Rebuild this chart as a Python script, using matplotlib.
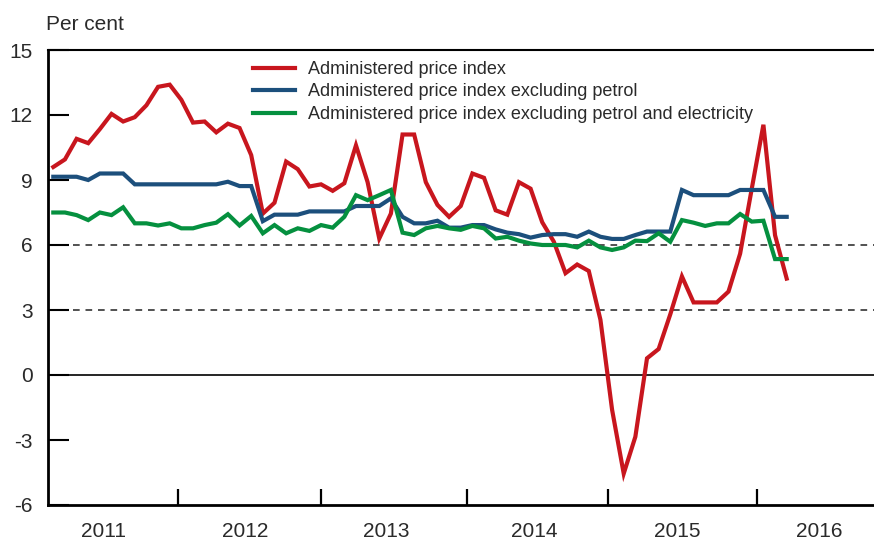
import matplotlib
matplotlib.use("Agg")
import matplotlib.pyplot as plt
import numpy as np

plt.rcParams['font.family'] = ['Liberation Sans', 'DejaVu Sans']

# Monthly observations (index 0 = first month shown)
admin_total = [9.6, 9.95, 10.9, 10.7, 11.35, 12.05, 11.7, 11.9, 12.45, 13.3, 13.4, 12.7,
               11.65, 11.7, 11.2, 11.6, 11.4, 10.15, 7.45, 7.95, 9.85, 9.5, 8.7, 8.8,
               8.5, 8.85, 10.6, 8.9, 6.3, 7.45, 11.1, 11.1, 8.9, 7.85, 7.3, 7.8,
               9.3, 9.1, 7.6, 7.4, 8.9, 8.6, 7.05, 6.15, 4.7, 5.1, 4.8, 2.55,
               -1.6, -4.55, -2.85, 0.77, 1.2, 2.8, 4.55, 3.35, 3.35, 3.35, 3.85, 5.6,
               8.6, 11.55, 6.45, 4.45]
admin_ex_petrol = [9.15, 9.15, 9.15, 9.0, 9.3, 9.3, 9.3, 8.8, 8.8, 8.8, 8.8, 8.8,
                   8.8, 8.8, 8.8, 8.92, 8.72, 8.72, 7.1, 7.4, 7.4, 7.4, 7.55, 7.55,
                   7.55, 7.55, 7.8, 7.8, 7.8, 8.15, 7.3, 7.0, 7.0, 7.12, 6.8, 6.8,
                   6.92, 6.92, 6.72, 6.57, 6.5, 6.34, 6.46, 6.5, 6.5, 6.38, 6.62, 6.38,
                   6.28, 6.28, 6.46, 6.62, 6.62, 6.62, 8.54, 8.3, 8.3, 8.3, 8.3, 8.54,
                   8.54, 8.54, 7.3, 7.3]
admin_ex_petrol_elec = [7.5, 7.5, 7.38, 7.15, 7.5, 7.38, 7.74, 7.0, 7.0, 6.9, 7.0, 6.77,
                        6.77, 6.92, 7.03, 7.42, 6.9, 7.34, 6.54, 6.92, 6.54, 6.77, 6.65, 6.92,
                        6.8, 7.3, 8.3, 8.07, 8.3, 8.54, 6.57, 6.46, 6.77, 6.88, 6.77, 6.7,
                        6.88, 6.77, 6.3, 6.38, 6.2, 6.07, 6.0, 6.0, 6.0, 5.89, 6.2, 5.89,
                        5.77, 5.89, 6.2, 6.18, 6.54, 6.15, 7.15, 7.03, 6.88, 7.0, 7.0, 7.43,
                        7.08, 7.12, 5.35, 5.35]
series_names = ["Administered price index",
                "Administered price index excluding petrol",
                "Administered price index excluding petrol and electricity"]
year_labels = ["2011", "2012", "2013", "2014", "2015", "2016"]
y_ticks = [15, 12, 9, 6, 3, 0, -3, -6]

# layout (in month-index units)
year_tick_pos = [10.71, 23.0, 35.54, 47.65, 60.45]
year_label_pos = [4.27, 16.47, 28.6, 41.3, 53.6, 65.8]

W, H = 874, 539
fig = plt.figure(figsize=(W / 100, H / 100), dpi=100)
ax = fig.add_axes([48 / W, 1 - 505 / H, 1 - 48 / W, (505 - 50) / H])

x = np.arange(len(admin_total))
colors = ["#c8161e", "#1c4f7c", "#05903f"]
ax.axhline(0, color="black", lw=1.2, zorder=1)
for yv in (6, 3):
    ax.axhline(yv, color="#333333", lw=1.2, ls=(0, (4, 3.5)), zorder=1)

for vals, c, name in zip([admin_total, admin_ex_petrol, admin_ex_petrol_elec], colors, series_names):
    ax.plot(x, vals, color=c, lw=3.0, label=name, zorder=3, solid_joinstyle="miter")

ax.set_xlim(-0.455, 70.5)
ax.set_ylim(-6, 15)

ax.spines['right'].set_visible(False)
ax.spines['left'].set_linewidth(2)
ax.spines['bottom'].set_linewidth(2)
ax.spines['top'].set_linewidth(1.5)

ax.set_yticks(y_ticks)
ax.set_yticklabels([str(v) for v in y_ticks])
ax.tick_params(axis='y', direction='in', length=15, width=1.5, pad=11,
               labelsize=15, labelcolor="#2a2a2a")
ax.set_xticks(year_tick_pos)
ax.set_xticklabels([])
ax.set_xticks(year_label_pos, minor=True)
ax.set_xticklabels(year_labels, minor=True)
ax.tick_params(axis='x', which='major', direction='in', length=11.5, width=1.6)
ax.tick_params(axis='x', which='minor', length=0, pad=12, labelsize=15, labelcolor="#2a2a2a")

leg = ax.legend(loc='upper left', bbox_to_anchor=((253 - 48) / 826, 1 - 11 / 455),
                frameon=False, fontsize=13, handlelength=2.3, handletextpad=0.75,
                labelspacing=0.3, borderpad=0, borderaxespad=0)
for t in leg.get_texts():
    t.set_color("#2a2a2a")
for l in leg.get_lines():
    l.set_linewidth(3.0)

fig.text(46 / W, 1 - 25 / H, "Per cent", fontsize=15, color="#2a2a2a", va='center', ha='left')

fig.savefig("out.png", dpi=100)
